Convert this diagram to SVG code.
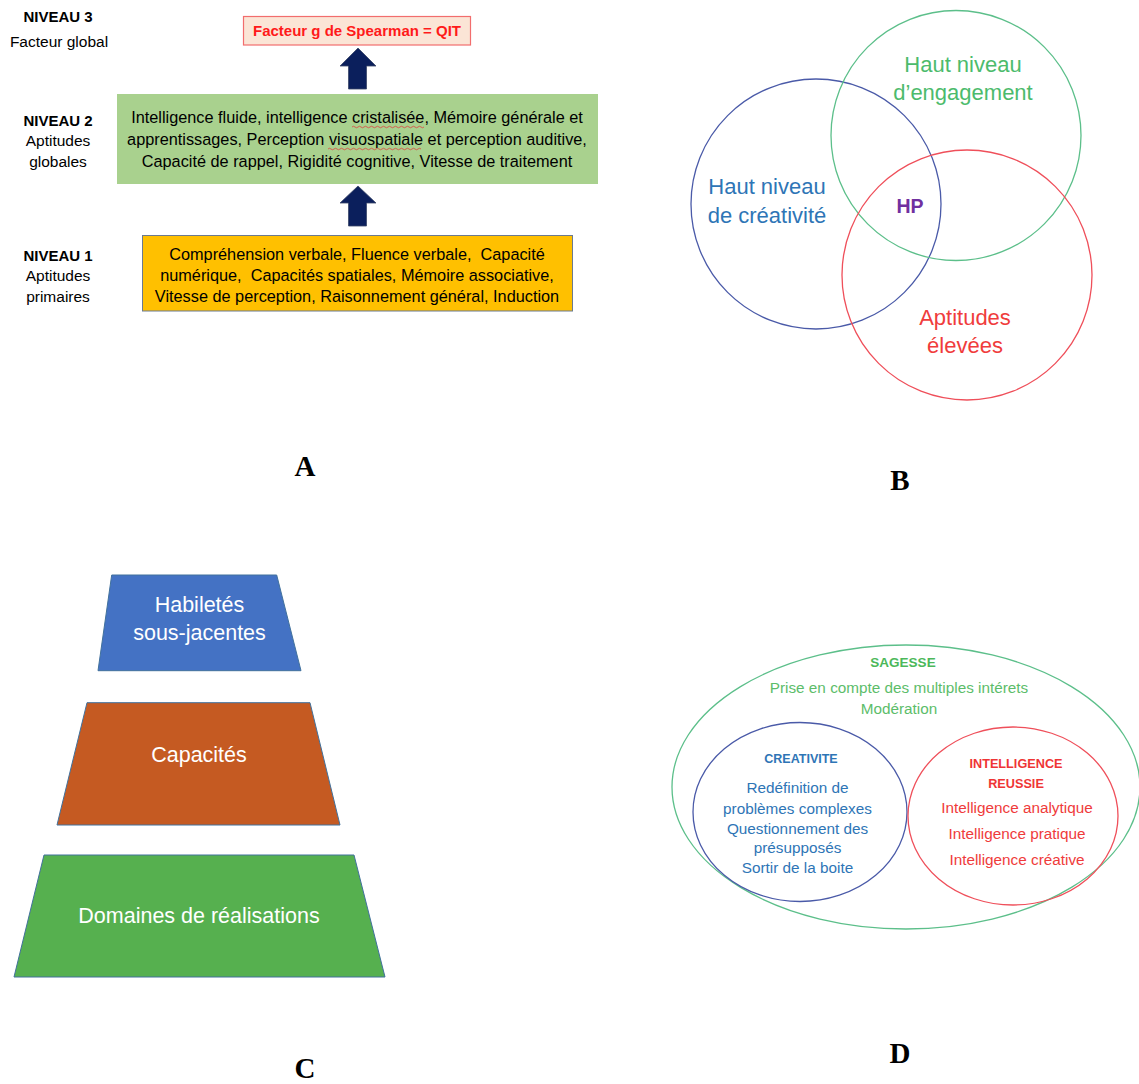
<svg xmlns="http://www.w3.org/2000/svg" width="1139" height="1084" viewBox="0 0 1139 1084">
<style>
text{font-family:"Liberation Sans",Arial,sans-serif;text-anchor:middle}
.lbl{font-size:15.5px;fill:#000}
.lblb{font-size:15px;font-weight:bold;fill:#000}
.box{font-size:16.3px;fill:#000;white-space:pre}
.big{font-family:"Liberation Serif","Times New Roman",serif;font-weight:bold;font-size:29px;fill:#000}
.ven{font-size:22px}
.pyr{font-size:21.5px;fill:#fff}
.d{font-size:15.3px}
.arrow{fill:#0b1f5c;stroke:#3a4668;stroke-width:0.8}
.trap{stroke:#41719c;stroke-width:1}
</style>

<!-- Panel A -->
<g id="labels-A">
<text class="lblb" x="58" y="22">NIVEAU 3</text>
<text class="lbl" x="59" y="47">Facteur global</text>
<text class="lblb" x="58" y="126">NIVEAU 2</text>
<text class="lbl" x="58" y="146">Aptitudes</text>
<text class="lbl" x="58" y="167">globales</text>
<text class="lblb" x="58" y="261">NIVEAU 1</text>
<text class="lbl" x="58" y="281">Aptitudes</text>
<text class="lbl" x="58" y="302">primaires</text>
</g>
<g id="niveau3">
<rect x="243.5" y="16.5" width="227" height="28.5" fill="#fbe5d6" stroke="#f26d6d" stroke-width="1.2"/>
<text x="357" y="36" style="font-size:15px;font-weight:bold;fill:#ff1a1a">Facteur g de Spearman = QIT</text>
</g>
<g id="niveau2">
<rect x="117" y="94" width="481" height="90" fill="#a9d18e"/>
<text class="box" x="357" y="123">Intelligence fluide, intelligence cristalisée, Mémoire générale et</text>
<text class="box" x="357" y="145">apprentissages, Perception visuospatiale et perception auditive,</text>
<text class="box" x="357" y="167">Capacité de rappel, Rigidité cognitive, Vitesse de traitement</text>
<path d="M352,127 q1.5,-1.5 3,0 t3,0 t3,0 t3,0 t3,0 t3,0 t3,0 t3,0 t3,0 t3,0 t3,0 t3,0 t3,0 t3,0 t3,0 t3,0 t3,0 t3,0 t3,0 t3,0 t3,0 t3,0 t3,0 t3,0" fill="none" stroke="#e04040" stroke-width="0.8"/>
<path d="M328,149 q1.5,-1.5 3,0 t3,0 t3,0 t3,0 t3,0 t3,0 t3,0 t3,0 t3,0 t3,0 t3,0 t3,0 t3,0 t3,0 t3,0 t3,0 t3,0 t3,0 t3,0 t3,0 t3,0 t3,0 t3,0 t3,0 t3,0 t3,0 t3,0 t3,0 t3,0 t3,0 t3,0" fill="none" stroke="#e04040" stroke-width="0.8"/>
</g>
<g id="niveau1">
<rect x="142.5" y="235.5" width="430" height="75.5" fill="#ffc000" stroke="#6b7a90" stroke-width="1"/>
<text class="box" x="357" y="260">Compréhension verbale, Fluence verbale,  Capacité</text>
<text class="box" x="357" y="281">numérique,  Capacités spatiales, Mémoire associative,</text>
<text class="box" x="357" y="302">Vitesse de perception, Raisonnement général, Induction</text>
</g>
<g id="connectors-A">
<path class="arrow" d="M358,48 L376,66 L366.5,66 L366.5,89 L348.5,89 L348.5,66 L340,66 Z"/>
<path class="arrow" d="M358,186 L376,203 L366.5,203 L366.5,226 L348.5,226 L348.5,203 L340,203 Z"/>
</g>
<text class="big" x="305" y="476">A</text>

<!-- Panel B -->
<g id="venn-creativite">
<circle cx="816" cy="204" r="125" fill="none" stroke="#4a5aa8" stroke-width="1.3"/>
<text class="ven" x="767" y="194" fill="#2e75b6">Haut niveau</text>
<text class="ven" x="767" y="223" fill="#2e75b6">de créativité</text>
</g>
<g id="venn-engagement">
<circle cx="956" cy="135.5" r="125" fill="none" stroke="#5cbf8a" stroke-width="1.3"/>
<text class="ven" x="963" y="72" fill="#4cbb6c">Haut niveau</text>
<text class="ven" x="963" y="100" fill="#4cbb6c">d’engagement</text>
</g>
<g id="venn-aptitudes">
<circle cx="967" cy="275" r="125" fill="none" stroke="#ef4f5a" stroke-width="1.3"/>
<text class="ven" x="965" y="325" fill="#f03c3c">Aptitudes</text>
<text class="ven" x="965" y="353" fill="#f03c3c">élevées</text>
</g>
<g id="venn-hp">
<text x="910" y="213" style="font-size:19.5px;font-weight:bold;fill:#7030a0">HP</text>
</g>
<text class="big" x="900" y="490">B</text>

<!-- Panel C -->
<g id="habiletes">
<polygon class="trap" points="111.7,575 276.7,575 301,670.7 98,670.7" fill="#4472c4"/>
<text class="pyr" x="199.5" y="612">Habiletés</text>
<text class="pyr" x="199.5" y="640">sous-jacentes</text>
</g>
<g id="capacites">
<polygon class="trap" points="87,702.7 310,702.7 340,825 57,825" fill="#c55a22"/>
<text class="pyr" x="199" y="762">Capacités</text>
</g>
<g id="domaines">
<polygon class="trap" points="44,855 354,855 385,977 14,977" fill="#56b04f"/>
<text class="pyr" x="199" y="923">Domaines de réalisations</text>
</g>
<text class="big" x="305" y="1078">C</text>

<!-- Panel D -->
<g id="sagesse">
<ellipse cx="906" cy="787" rx="234" ry="142" fill="none" stroke="#5cbf8a" stroke-width="1.3"/>
<text x="903" y="667" style="font-size:13.5px;font-weight:bold;fill:#4cb85a">SAGESSE</text>
<text class="d" x="899" y="693" fill="#5cbd6a">Prise en compte des multiples intérets</text>
<text class="d" x="899" y="714" fill="#5cbd6a">Modération</text>
</g>
<g id="creativite">
<ellipse cx="800" cy="812" rx="107" ry="89.5" fill="none" stroke="#4a5aa8" stroke-width="1.3"/>
<text x="801" y="763" style="font-size:12.5px;font-weight:bold;fill:#2e75b6">CREATIVITE</text>
<text class="d" x="797.5" y="793" fill="#2e75b6">Redéfinition de</text>
<text class="d" x="797.5" y="814" fill="#2e75b6">problèmes complexes</text>
<text class="d" x="797.5" y="834" fill="#2e75b6">Questionnement des</text>
<text class="d" x="797.5" y="853" fill="#2e75b6">présupposés</text>
<text class="d" x="797.5" y="873" fill="#2e75b6">Sortir de la boite</text>
</g>
<g id="intelligence-reussie">
<ellipse cx="1013" cy="816" rx="105" ry="89" fill="none" stroke="#ef4f5a" stroke-width="1.3"/>
<text x="1016" y="768" style="font-size:12.7px;font-weight:bold;fill:#ef3535">INTELLIGENCE</text>
<text x="1016" y="788" style="font-size:12.7px;font-weight:bold;fill:#ef3535">REUSSIE</text>
<text class="d" x="1017" y="813" fill="#ef3b3b">Intelligence analytique</text>
<text class="d" x="1017" y="839" fill="#ef3b3b">Intelligence pratique</text>
<text class="d" x="1017" y="865" fill="#ef3b3b">Intelligence créative</text>
</g>
<text class="big" x="900" y="1063">D</text>
</svg>
